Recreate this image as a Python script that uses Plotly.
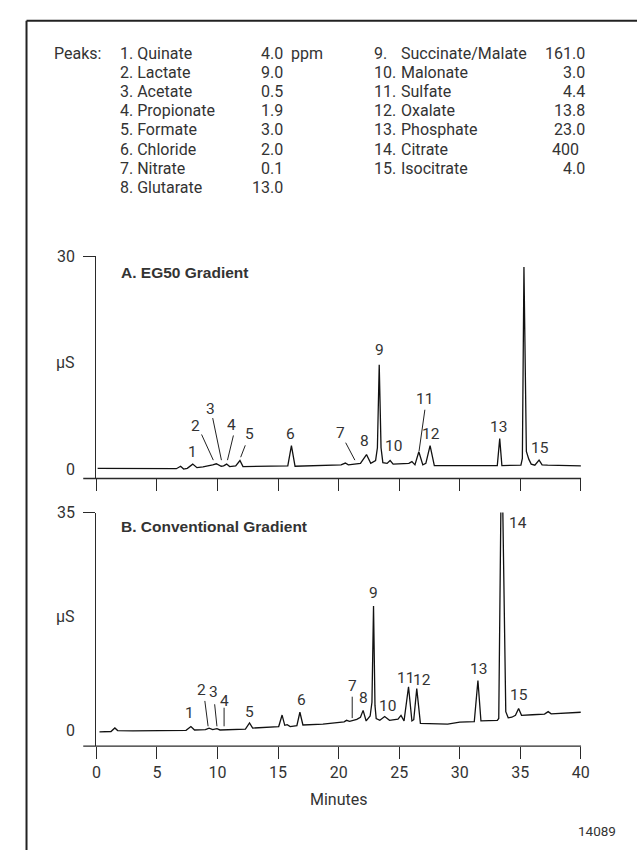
import plotly.graph_objects as go

W, H = 637, 850

# ---------------- data ----------------
# Chromatogram A (EG50 Gradient): retention time (min), conductivity (uS)
time_a = [0.1, 2.1, 2.4, 6.6, 6.95, 7.2, 7.5, 7.95, 8.3, 8.8, 9.6, 9.9, 10.3, 10.5, 10.75, 11.0,
          11.5, 11.85, 12.1, 15.8, 16.1, 16.4, 20.2, 20.55, 20.8, 21.8, 22.3, 22.65, 23.05, 23.2,
          23.35, 23.5, 23.65, 24.0, 24.25, 24.5, 25.8, 26.05, 26.3, 26.62, 26.95, 27.2, 27.55,
          27.9, 33.1, 33.3, 33.48, 35.05, 35.17, 35.3, 35.5, 35.7, 35.9, 36.2, 36.55, 36.8, 37.25, 40.1]
signal_a = [0.1, 0.1, 0.0, 0.05, 0.4, 0.0, 0.1, 0.7, 0.2, 0.3, 0.6, 0.75, 0.4, 0.45, 0.7, 0.35,
            0.45, 1.2, 0.35, 0.45, 3.3, 0.4, 0.6, 0.85, 0.6, 0.8, 2.05, 0.8, 1.2, 3.0,
            14.7, 3.0, 0.9, 0.8, 1.2, 0.7, 0.8, 1.05, 0.6, 2.45, 0.6, 0.8, 3.3,
            0.5, 0.5, 4.3, 0.5, 0.55, 1.5, 28.5, 2.5, 1.4, 0.7, 0.55, 1.26, 0.6, 0.56, 0.46]

# Chromatogram B (Conventional Gradient); peak 14 runs off scale
time_b = [0.25, 1.2, 1.52, 1.75, 3.0, 6.0, 7.4, 7.8, 8.1, 9.0, 9.3, 9.6, 9.95, 10.2, 12.3, 12.64,
          12.9, 15.05, 15.33, 15.55, 15.75, 16.0, 16.55, 16.8, 17.05, 18.7, 20.0, 20.45, 20.65,
          20.9, 21.5, 21.8, 22.02, 22.27, 22.6, 22.75, 22.88, 23.0, 23.1, 23.4, 23.8, 24.2, 24.9,
          25.15, 25.4, 25.77, 26.05, 26.2, 26.45, 26.75, 29.0, 30.0, 31.2, 31.5, 31.75, 32.5,
          33.1, 33.22, 33.46, 33.8, 34.0, 34.3, 34.6, 34.86, 35.1, 36.0, 37.0, 37.3, 37.55, 40.0]
signal_b = [-0.25, -0.2, 0.37, -0.05, -0.1, 0.0, 0.0, 0.6, 0.05, 0.1, 0.35, 0.1, 0.25, 0.05, 0.2, 1.17,
            0.35, 0.6, 2.45, 0.8, 0.9, 0.6, 0.75, 2.9, 0.85, 1.0, 1.3, 1.35, 1.6,
            1.45, 1.75, 2.1, 3.2, 1.5, 2.3, 4.5, 20.0, 4.0, 1.9, 1.6, 2.2, 1.6, 1.8,
            2.4, 1.5, 7.0, 1.5, 1.7, 6.7, 1.1, 1.0, 1.3, 1.4, 8.0, 1.5, 1.5,
            1.6, 1.9, 48.0, 3.0, 2.0, 2.1, 2.4, 3.5, 2.4, 2.5, 2.6, 3.0, 2.65, 2.9]

# Peak-number labels (position in data units)
label_text = ["1", "2", "3", "4", "5", "6", "7", "8", "9", "10", "11", "12", "13", "14", "15"]
label_a_t = [7.92, 8.22, 9.41, 11.17, 12.63, 16.03, 20.19, 22.13, 23.34, 24.52, 27.13, 27.62, 33.2, 35.26, 36.66]
label_a_v = [2.44, 6.04, 8.51, 6.21, 4.88, 4.88, 5.12, 3.91, 16.74, 3.21, 9.91, 4.88, 5.9, 30.14, 2.93]
label_b_t = [7.71, 8.66, 9.68, 10.54, 12.65, 16.92, 21.15, 22.03, 22.85, 24.07, 25.5, 26.85, 31.51, 34.78, 34.92]
label_b_v = [2.8, 6.4, 6.15, 4.7, 2.95, 4.93, 7.2, 5.2, 22.05, 3.95, 8.38, 8.15, 9.87, 33.4, 5.65]

# Leader lines (t0, v0, t1, v1)
leaders_a = [(8.68, 4.88, 9.65, 1.26), (9.60, 7.19, 10.32, 1.26), (11.31, 4.74, 10.82, 1.26),
             (12.29, 3.35, 11.91, 1.67), (20.58, 3.72, 21.34, 1.26), (27.12, 8.37, 26.64, 2.55)]
leaders_b = [(8.95, 4.72, 9.22, 0.64), (9.76, 4.18, 9.95, 0.64), (10.54, 3.63, 10.54, 0.64),
             (21.12, 5.4, 21.12, 1.96)]

x_ticks = [0, 5, 10, 15, 20, 25, 30, 35, 40]
x_ticktext = [str(v) for v in x_ticks]

peaks_col1 = ["1. Quinate", "2. Lactate", "3. Acetate", "4. Propionate", "5. Formate",
              "6. Chloride", "7. Nitrate", "8. Glutarate"]
conc_col1 = ["4.0", "9.0", "0.5", "1.9", "3.0", "2.0", "0.1", "13.0"]
num_col2 = ["9.", "10.", "11.", "12.", "13.", "14.", "15."]
peaks_col2 = ["Succinate/Malate", "Malonate", "Sulfate", "Oxalate", "Phosphate", "Citrate", "Isocitrate"]
conc_col2 = ["161.0", "3.0", "4.4", "13.8", "23.0", "400", "4.0"]

# ---------------- layout helpers ----------------
def fx(p):
    return p / W

def fy(p):
    return 1 - p / H

FONT = "Roboto, Liberation Sans, Arial, sans-serif"
BOLD = "Liberation Sans, Arial, sans-serif"
TXT = "#333333"
AX = "#2a2a2a"
FS = 16

X0, X40 = 93.5, 588.8
# panel A pixel geometry
A_axis, A_zero, A_top = 474.5, 465.0, 250.0
A_max = 30
A_k = (A_zero - A_top) / A_max
A_min = -(A_axis - A_zero) / A_k
# panel B pixel geometry
B_axis, B_zero, B_top = 745.0, 729.0, 509.0
B_max = 35
B_k = (B_zero - B_top) / B_max
B_min = -(B_axis - B_zero) / B_k

fig = go.Figure()
fig.add_trace(go.Scatter(x=time_a, y=signal_a, mode="lines", line=dict(color="#111", width=1.3),
                         xaxis="x", yaxis="y", hoverinfo="skip", showlegend=False))
fig.add_trace(go.Scatter(x=time_b, y=signal_b, mode="lines", line=dict(color="#111", width=1.3),
                         xaxis="x2", yaxis="y2", hoverinfo="skip", showlegend=False))

tickfont = dict(family=FONT, size=FS, color=TXT)
xcommon = dict(range=[0, 40], domain=[fx(X0), fx(X40)], showgrid=False, zeroline=False,
               showline=False, ticks="outside", ticklen=12, tickwidth=1.3, tickcolor=AX,
               tickvals=x_ticks, ticktext=x_ticktext, fixedrange=True)
fig.update_layout(
    width=W, height=H, margin=dict(l=0, r=0, t=0, b=0),
    paper_bgcolor="white", plot_bgcolor="white",
    xaxis=dict(xcommon, anchor="y", showticklabels=False),
    yaxis=dict(range=[A_min, A_max], domain=[fy(A_axis), fy(A_top)], anchor="x",
               showgrid=False, zeroline=False, showline=True, linecolor=AX, linewidth=1.3,
               ticks="outside", ticklen=12, tickwidth=1.3, tickcolor=AX,
               tickvals=[A_max], ticktext=[str(A_max)], ticklabelstandoff=5, tickfont=tickfont),
    xaxis2=dict(xcommon, anchor="y2", showticklabels=True, tickfont=tickfont),
    yaxis2=dict(range=[B_min, B_max], domain=[fy(B_axis), fy(B_top)], anchor="x2",
                showgrid=False, zeroline=False, showline=True, linecolor=AX, linewidth=1.3,
                ticks="outside", ticklen=12, tickwidth=1.3, tickcolor=AX,
                tickvals=[B_max], ticktext=[str(B_max)], ticklabelstandoff=5, tickfont=tickfont),
)

shapes = []
# x axis lines extending left of the y axis
for yy in (A_axis, B_axis):
    shapes.append(dict(type="line", xref="paper", yref="paper", x0=fx(80), x1=fx(589),
                       y0=fy(yy), y1=fy(yy), line=dict(color=AX, width=1.3)))
# outer frame (left and top edges visible)
shapes.append(dict(type="line", xref="paper", yref="paper", x0=fx(22), x1=fx(660),
                   y0=fy(12), y1=fy(12), line=dict(color="#222", width=2)))
shapes.append(dict(type="line", xref="paper", yref="paper", x0=fx(22), x1=fx(22),
                   y0=fy(12), y1=fy(870), line=dict(color="#222", width=2)))
for (t0, v0, t1, v1) in leaders_a:
    shapes.append(dict(type="line", xref="x", yref="y", x0=t0, y0=v0, x1=t1, y1=v1,
                       line=dict(color="#222", width=1)))
for (t0, v0, t1, v1) in leaders_b:
    shapes.append(dict(type="line", xref="x2", yref="y2", x0=t0, y0=v0, x1=t1, y1=v1,
                       line=dict(color="#222", width=1)))

ann = []
def text(x, y, s, size=FS, xanchor="left", family=FONT, xref="paper", yref="paper", bold=False):
    ann.append(dict(x=x, y=y, xref=xref, yref=yref, text=("<b>%s</b>" % s) if bold else s,
                    showarrow=False, xanchor=xanchor, yanchor="middle",
                    font=dict(family=family, size=size, color=TXT)))

for i, s in enumerate(label_text):
    text(label_a_t[i], label_a_v[i], s, size=15.5, xanchor="center", xref="x", yref="y")
    text(label_b_t[i], label_b_v[i], s, size=15.5, xanchor="center", xref="x2", yref="y2")

# zero labels
text(fx(74), 0, "0", xanchor="right", yref="y")
text(fx(74), 0, "0", xanchor="right", yref="y2")
# uS labels
text(fx(61.5), fy(357), "\u00b5S", xanchor="center")
text(fx(61.5), fy(614), "\u00b5S", xanchor="center")
# panel titles
text(fx(117), fy(266), "A. EG50 Gradient", size=15.5, family=BOLD, bold=True)
text(fx(117), fy(523), "B. Conventional Gradient", size=15.5, family=BOLD, bold=True)
# axis title
text(fx(341), fy(799), "Minutes", xanchor="center")
# figure id
text(fx(605), fy(831), "14089", size=13.5, xanchor="center")

# peaks table
row0, dy = 45.0, 19.3
text(fx(48), fy(row0), "Peaks:")
for i, s in enumerate(peaks_col1):
    yy = fy(row0 + i * dy)
    text(fx(116), yy, s)
    text(fx(286), yy, conc_col1[i], xanchor="right")
text(fx(286), fy(row0), " ppm")
for i, s in enumerate(peaks_col2):
    yy = fy(row0 + i * dy)
    text(fx(375), yy, num_col2[i])
    text(fx(403), yy, s)
    if conc_col2[i] == "400":
        text(fx(557), yy, conc_col2[i])
    else:
        text(fx(595), yy, conc_col2[i], xanchor="right")

fig.update_layout(shapes=shapes, annotations=ann)
fig.write_html("out.html")
